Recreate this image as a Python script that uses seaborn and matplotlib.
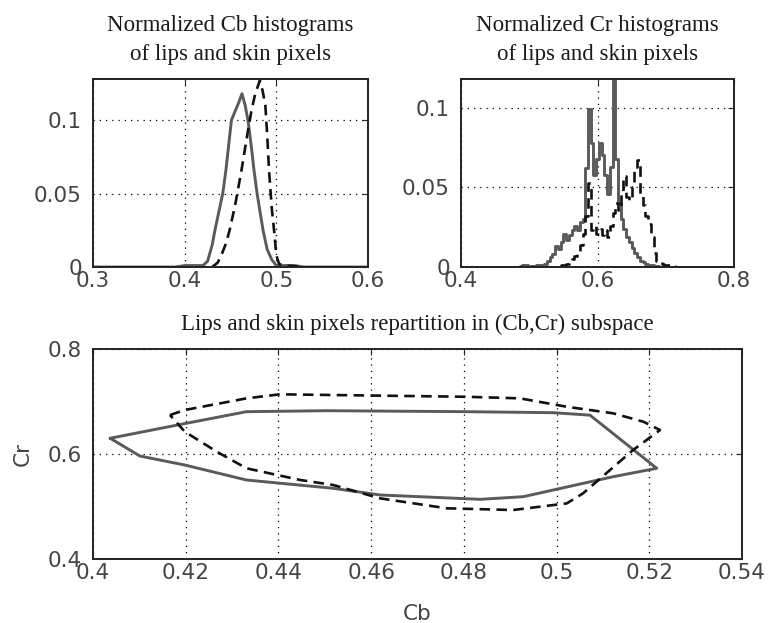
import numpy as np
import matplotlib
matplotlib.use('Agg')
import matplotlib.pyplot as plt
import seaborn as sns

# ---- Cb histograms ----
cb_skin_x = [0.300, 0.390, 0.400, 0.420, 0.425, 0.430, 0.433, 0.4415, 0.445, 0.451,
             0.455, 0.459, 0.4625, 0.466, 0.469, 0.4725, 0.4756, 0.479, 0.4855, 0.490,
             0.495, 0.500, 0.520, 0.530, 0.600]
cb_skin_y = [0.0, 0.0, 0.001, 0.001, 0.004, 0.015, 0.025, 0.050, 0.066, 0.100,
             0.106, 0.112, 0.118, 0.110, 0.100, 0.083, 0.066, 0.050, 0.025, 0.012,
             0.005, 0.001, 0.001, 0.0, 0.0]

cb_lips_x = [0.430, 0.436, 0.440, 0.445, 0.449, 0.455, 0.462, 0.468, 0.473, 0.477,
             0.482, 0.485, 0.488, 0.490, 0.492, 0.495, 0.4975, 0.500, 0.503, 0.510, 0.530]
cb_lips_y = [0.0, 0.003, 0.008, 0.016, 0.025, 0.042, 0.066, 0.089, 0.107, 0.118,
             0.127, 0.120, 0.110, 0.090, 0.066, 0.040, 0.025, 0.008, 0.002, 0.001, 0.0]

# ---- Cr histograms ----
cr_x = [0.400,
        0.484, 0.488, 0.492, 0.496, 0.500, 0.504, 0.508, 0.512, 0.516, 0.520,
        0.524, 0.528, 0.532, 0.536, 0.540, 0.544, 0.548, 0.552, 0.556, 0.560,
        0.564, 0.568, 0.572, 0.576, 0.580, 0.584, 0.588, 0.592, 0.596, 0.600,
        0.604, 0.608, 0.612, 0.616, 0.620, 0.624, 0.628, 0.632, 0.636, 0.640,
        0.644, 0.648, 0.652, 0.656, 0.660, 0.664, 0.668, 0.672, 0.676, 0.680,
        0.684, 0.688, 0.692, 0.696, 0.700, 0.704, 0.708, 0.712, 0.716,
        0.800]
cr_skin_y = [0.0,
             0.0, 0.0005, 0.001, 0.001, 0.0005, 0.0005, 0.0005, 0.001, 0.001, 0.001,
             0.002, 0.004, 0.006, 0.008, 0.013, 0.011, 0.016, 0.021, 0.017, 0.020,
             0.023, 0.026, 0.023, 0.028, 0.030, 0.062, 0.099, 0.078, 0.058, 0.068,
             0.078, 0.070, 0.058, 0.046, 0.063, 0.135, 0.068, 0.040, 0.030, 0.024,
             0.019, 0.016, 0.012, 0.009, 0.006, 0.004, 0.003, 0.002, 0.001, 0.001,
             0.0005, 0.0005, 0.0, 0.0, 0.0, 0.0, 0.0, 0.0, 0.0,
             0.0]
cr_lips_y = [0.0,
             0.0, 0.0, 0.0, 0.0, 0.0, 0.0, 0.0, 0.0, 0.0, 0.0,
             0.0, 0.0, 0.0, 0.0, 0.0, 0.0005, 0.001, 0.001, 0.002, 0.003,
             0.005, 0.007, 0.010, 0.014, 0.021, 0.032, 0.053, 0.023, 0.026, 0.021,
             0.024, 0.020, 0.023, 0.019, 0.026, 0.034, 0.040, 0.036, 0.048, 0.057,
             0.044, 0.042, 0.050, 0.063, 0.067, 0.046, 0.039, 0.032, 0.027, 0.019,
             0.009, 0.004, 0.003, 0.002, 0.001, 0.001, 0.0005, 0.0005, 0.0,
             0.0]

# ---- (Cb,Cr) contours ----
skin_cb = [0.4037, 0.4198, 0.4331, 0.4504, 0.4806, 0.4993, 0.5072, 0.5216, 0.5122,
           0.5072, 0.4928, 0.4835, 0.4619, 0.4518, 0.4331, 0.4198, 0.4101, 0.4037]
skin_cr = [0.630, 0.658, 0.6806, 0.6825, 0.6806, 0.6787, 0.674, 0.5728, 0.5568,
           0.547, 0.5187, 0.5137, 0.522, 0.5347, 0.5505, 0.579, 0.5962, 0.630]

lips_cb = [0.4166, 0.4198, 0.4331, 0.4403, 0.4806, 0.4921, 0.5022, 0.5122, 0.5187,
           0.5223, 0.5165, 0.5057, 0.5022, 0.4906, 0.4763, 0.4619, 0.4518, 0.4447,
           0.4331, 0.4267, 0.4198, 0.4166]
lips_cr = [0.6743, 0.6838, 0.706, 0.7137, 0.709, 0.706, 0.690, 0.6775, 0.6616,
           0.6457, 0.6076, 0.525, 0.506, 0.4933, 0.4966, 0.5156, 0.541, 0.5505,
           0.5728, 0.6044, 0.6425, 0.6743]

# ---- ticks / texts ----
ax1_xticks = [0.3, 0.4, 0.5, 0.6]
ax1_xlabels = ['0.3', '0.4', '0.5', '0.6']
ax2_xticks = [0.4, 0.6, 0.8]
ax2_xlabels = ['0.4', '0.6', '0.8']
hist_yticks = [0, 0.05, 0.1]
hist_ylabels = ['0', '0.05', '0.1']
ax3_xticks = [0.4, 0.42, 0.44, 0.46, 0.48, 0.5, 0.52, 0.54]
ax3_xlabels = ['0.4', '0.42', '0.44', '0.46', '0.48', '0.5', '0.52', '0.54']
ax3_yticks = [0.4, 0.6, 0.8]
ax3_ylabels = ['0.4', '0.6', '0.8']

title_cb = 'Normalized Cb histograms\nof lips and skin pixels'
title_cr = 'Normalized Cr histograms\nof lips and skin pixels'
title_sub = 'Lips and skin pixels repartition in (Cb,Cr) subspace'

sns.set_style('white')
plt.rcParams['font.family'] = ['DejaVu Sans']

SOLID = '#5a5a5a'
DASH = '#111111'
TXT = '#444444'
DASHES = (0, (4, 2.4))

fig = plt.figure(figsize=(7.68, 6.23), dpi=100)
ax1 = fig.add_axes([0.1211, 0.5714, 0.3581, 0.3018])
ax2 = fig.add_axes([0.6003, 0.5714, 0.3555, 0.3018])
ax3 = fig.add_axes([0.1211, 0.1027, 0.8451, 0.3371])


def style_axes(ax, xt, xl, yt, yl):
    ax.set_xticks(xt)
    ax.set_xticklabels(xl)
    ax.set_yticks(yt)
    ax.set_yticklabels(yl)
    ax.tick_params(direction='in', length=4, width=0.8, colors='#222222',
                   labelcolor=TXT, labelsize=15.5, top=True, right=True)
    ax.tick_params(axis='x', pad=3)
    ax.tick_params(axis='y', pad=8)
    ax.grid(True, color='black', linestyle=(0, (1, 4)), linewidth=0.9)
    for s in ax.spines.values():
        s.set_color('#222222')
        s.set_linewidth(1.4)
    ax.set_xlabel('')
    ax.set_ylabel('')


def put_title(ax, text):
    ax.annotate(text, xy=(0.5, 1.0), xycoords='axes fraction', xytext=(0, 10),
                textcoords='offset points', ha='center', va='bottom',
                family='Liberation Serif', fontsize=16.5, color='#1a1a1a',
                linespacing=1.5)


# Cb histograms
sns.lineplot(x=cb_skin_x, y=cb_skin_y, ax=ax1, color=SOLID, lw=2.1,
             sort=False, estimator=None)
sns.lineplot(x=cb_lips_x, y=cb_lips_y, ax=ax1, color=DASH, lw=1.9,
             linestyle=DASHES, sort=False, estimator=None)
ax1.set_xlim(0.3, 0.6)
ax1.set_ylim(0, 0.128)
style_axes(ax1, ax1_xticks, ax1_xlabels, hist_yticks, hist_ylabels)
put_title(ax1, title_cb)

# Cr histograms
sns.lineplot(x=cr_x, y=cr_skin_y, ax=ax2, color=SOLID, lw=2.1,
             sort=False, estimator=None, drawstyle='steps-mid')
sns.lineplot(x=cr_x, y=cr_lips_y, ax=ax2, color=DASH, lw=1.9,
             linestyle=DASHES, sort=False, estimator=None, drawstyle='steps-mid')
ax2.set_xlim(0.4, 0.8)
ax2.set_ylim(0, 0.118)
style_axes(ax2, ax2_xticks, ax2_xlabels, hist_yticks, hist_ylabels)
put_title(ax2, title_cr)

# Cb-Cr contours
sns.lineplot(x=skin_cb, y=skin_cr, ax=ax3, color=SOLID, lw=2.1,
             sort=False, estimator=None)
sns.lineplot(x=lips_cb, y=lips_cr, ax=ax3, color=DASH, lw=1.9,
             linestyle=DASHES, sort=False, estimator=None)
ax3.set_xlim(0.4, 0.54)
ax3.set_ylim(0.4, 0.8)
style_axes(ax3, ax3_xticks, ax3_xlabels, ax3_yticks, ax3_ylabels)
put_title(ax3, title_sub)
ax3.set_xlabel('Cb', fontsize=15.5, color=TXT)
ax3.set_ylabel('Cr', fontsize=15.5, color=TXT)
ax3.xaxis.set_label_coords(0.5, -0.215)
ax3.yaxis.set_label_coords(-0.0925, 0.5)

fig.savefig('out.png', dpi=100)
